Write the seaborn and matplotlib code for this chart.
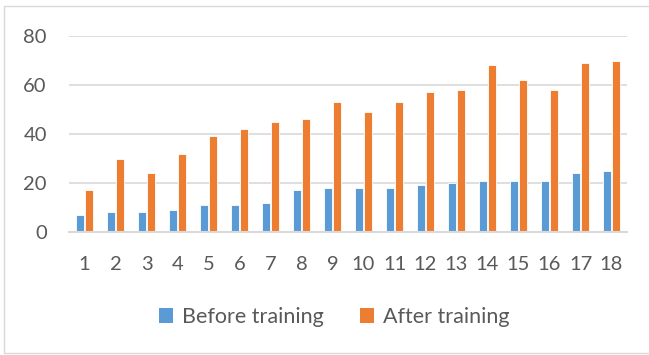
import matplotlib
matplotlib.use("Agg")
import matplotlib.pyplot as plt
import seaborn as sns
import pandas as pd
from matplotlib.patches import Rectangle, Patch

sessions = [str(i) for i in range(1, 19)]
before_training = [7, 8, 8, 9, 11, 11, 12, 17, 18, 18, 18, 19, 20, 21, 21, 21, 24, 25]
after_training = [17, 30, 24, 32, 39, 42, 45, 46, 53, 49, 53, 57, 58, 68, 62, 58, 69, 70]
series_names = ["Before training", "After training"]
y_ticks = [0, 20, 40, 60, 80]

df = pd.DataFrame({
    "session": sessions * 2,
    "value": before_training + after_training,
    "group": [series_names[0]] * len(sessions) + [series_names[1]] * len(sessions),
})

sns.set_theme(style="white")
plt.rcParams["font.family"] = ["Lato", "DejaVu Sans"]

colors = ["#5B9BD5", "#ED7D31"]
text_color = "#595959"

fig = plt.figure(figsize=(6.49, 3.55), dpi=100)
ax = fig.add_axes([69 / 649, 1 - 232 / 355, (627 - 69) / 649, 196 / 355])

sns.barplot(data=df, x="session", y="value", hue="group", hue_order=series_names,
            palette=colors, width=0.55, gap=0.12, ax=ax, legend=False,
            edgecolor="#FFFFFF", linewidth=0.6, saturation=1)

ax.set_ylim(0, 80)
ax.set_yticks(y_ticks)
ax.set_xlim(-0.5, len(sessions) - 0.5)
ax.set_xlabel("")
ax.set_ylabel("")
ax.yaxis.grid(True, color="#D9D9D9", linewidth=1.2)
ax.set_axisbelow(True)
for side in ["top", "right", "left"]:
    ax.spines[side].set_visible(False)
ax.spines["bottom"].set_color("#D9D9D9")
ax.spines["bottom"].set_linewidth(1.5)
ax.tick_params(axis="both", length=0, labelsize=14.5, colors=text_color)
ax.tick_params(axis="y", pad=16)
ax.tick_params(axis="x", pad=17)

handles = [Patch(facecolor=c, edgecolor="none") for c in colors]
fig.legend(handles, series_names, loc="center", bbox_to_anchor=(334 / 649, 1 - 317 / 355),
           ncol=2, frameon=False, fontsize=15.5, labelcolor=text_color,
           handlelength=0.65, handleheight=0.65, handletextpad=0.4, columnspacing=1.7)

# Chart-area border
fig.patches.append(Rectangle((4 / 649, 2 / 355), 1.0, 1 - 8 / 355, transform=fig.transFigure,
                             fill=False, edgecolor="#D9D9D9", linewidth=1.0))

fig.savefig("out.png", dpi=100)
